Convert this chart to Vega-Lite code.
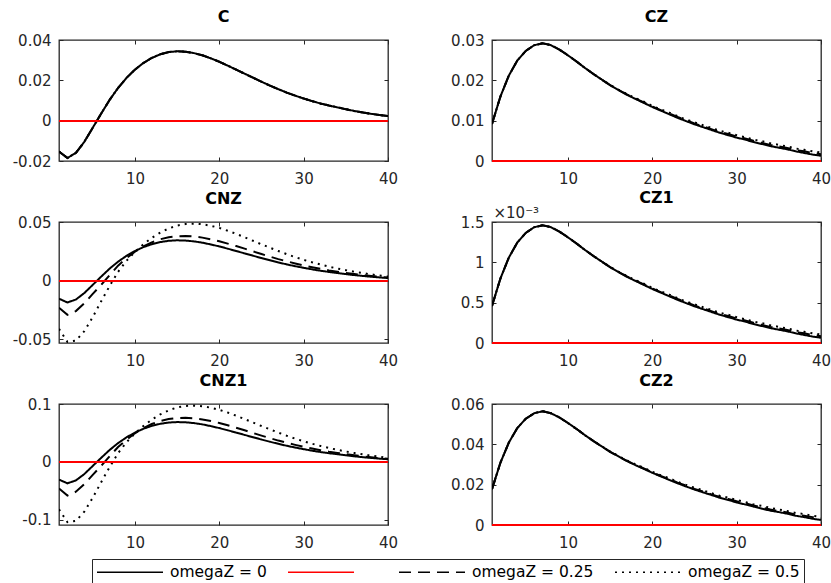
{
"$schema": "https://vega.github.io/schema/vega-lite/v6.json",
"background": "white",
"padding": {"left": 11, "top": 8, "right": 0, "bottom": 0},
"bounds": "flush",
"columns": 2,
"spacing": {"row": 61, "column": 104},
"datasets": {"irf": [
{"p":"C","t":1,"a":-0.0153,"b":-0.0153,"c":-0.0153},{"p":"C","t":2,"a":-0.0185,"b":-0.0185,"c":-0.0185},{"p":"C","t":3,"a":-0.016,"b":-0.016,"c":-0.016},{"p":"C","t":4,"a":-0.0105,"b":-0.0105,"c":-0.0105},{"p":"C","t":5,"a":-0.0035,"b":-0.0035,"c":-0.0035},{"p":"C","t":6,"a":0.0035,"b":0.0035,"c":0.0035},{"p":"C","t":7,"a":0.0103,"b":0.0103,"c":0.0103},{"p":"C","t":8,"a":0.0162,"b":0.0162,"c":0.0162},{"p":"C","t":9,"a":0.0212,"b":0.0212,"c":0.0212},{"p":"C","t":10,"a":0.0253,"b":0.0253,"c":0.0253},
{"p":"C","t":11,"a":0.0286,"b":0.0286,"c":0.0286},{"p":"C","t":12,"a":0.0311,"b":0.0311,"c":0.0311},{"p":"C","t":13,"a":0.0329,"b":0.0329,"c":0.0329},{"p":"C","t":14,"a":0.034,"b":0.034,"c":0.034},{"p":"C","t":15,"a":0.0344,"b":0.0344,"c":0.0344},{"p":"C","t":16,"a":0.0342,"b":0.0342,"c":0.0342},{"p":"C","t":17,"a":0.0335,"b":0.0335,"c":0.0335},{"p":"C","t":18,"a":0.0324,"b":0.0324,"c":0.0324},{"p":"C","t":19,"a":0.0309,"b":0.0309,"c":0.0309},{"p":"C","t":20,"a":0.0292,"b":0.0292,"c":0.0292},
{"p":"C","t":21,"a":0.0273,"b":0.0273,"c":0.0273},{"p":"C","t":22,"a":0.0253,"b":0.0253,"c":0.0253},{"p":"C","t":23,"a":0.0233,"b":0.0233,"c":0.0233},{"p":"C","t":24,"a":0.0213,"b":0.0213,"c":0.0213},{"p":"C","t":25,"a":0.0193,"b":0.0193,"c":0.0193},{"p":"C","t":26,"a":0.0174,"b":0.0174,"c":0.0174},{"p":"C","t":27,"a":0.0156,"b":0.0156,"c":0.0156},{"p":"C","t":28,"a":0.0139,"b":0.0139,"c":0.0139},{"p":"C","t":29,"a":0.0124,"b":0.0124,"c":0.0124},{"p":"C","t":30,"a":0.011,"b":0.011,"c":0.011},
{"p":"C","t":31,"a":0.0097,"b":0.0097,"c":0.0097},{"p":"C","t":32,"a":0.0085,"b":0.0085,"c":0.0085},{"p":"C","t":33,"a":0.0075,"b":0.0075,"c":0.0075},{"p":"C","t":34,"a":0.0066,"b":0.0066,"c":0.0066},{"p":"C","t":35,"a":0.0057,"b":0.0057,"c":0.0057},{"p":"C","t":36,"a":0.0048,"b":0.0048,"c":0.0048},{"p":"C","t":37,"a":0.0041,"b":0.0041,"c":0.0041},{"p":"C","t":38,"a":0.0034,"b":0.0034,"c":0.0034},{"p":"C","t":39,"a":0.0028,"b":0.0028,"c":0.0028},{"p":"C","t":40,"a":0.0023,"b":0.0023,"c":0.0023},
{"p":"CNZ","t":1,"a":-0.0153,"b":-0.023,"c":-0.041},{"p":"CNZ","t":2,"a":-0.0185,"b":-0.029,"c":-0.052},{"p":"CNZ","t":3,"a":-0.016,"b":-0.0258,"c":-0.051},{"p":"CNZ","t":4,"a":-0.0105,"b":-0.0192,"c":-0.043},{"p":"CNZ","t":5,"a":-0.0035,"b":-0.0112,"c":-0.031},{"p":"CNZ","t":6,"a":0.0035,"b":-0.0035,"c":-0.0175},{"p":"CNZ","t":7,"a":0.0103,"b":0.0048,"c":-0.0045},{"p":"CNZ","t":8,"a":0.0162,"b":0.0128,"c":0.0075},{"p":"CNZ","t":9,"a":0.0212,"b":0.0192,"c":0.017},{"p":"CNZ","t":10,"a":0.0253,"b":0.0247,"c":0.0245},
{"p":"CNZ","t":11,"a":0.0286,"b":0.0292,"c":0.031},{"p":"CNZ","t":12,"a":0.0311,"b":0.0327,"c":0.0365},{"p":"CNZ","t":13,"a":0.0329,"b":0.0353,"c":0.041},{"p":"CNZ","t":14,"a":0.034,"b":0.037,"c":0.0445},{"p":"CNZ","t":15,"a":0.0344,"b":0.0379,"c":0.047},{"p":"CNZ","t":16,"a":0.0342,"b":0.0381,"c":0.0483},{"p":"CNZ","t":17,"a":0.0335,"b":0.0377,"c":0.0486},{"p":"CNZ","t":18,"a":0.0324,"b":0.0367,"c":0.0481},{"p":"CNZ","t":19,"a":0.0309,"b":0.0353,"c":0.0468},{"p":"CNZ","t":20,"a":0.0292,"b":0.0336,"c":0.045},
{"p":"CNZ","t":21,"a":0.0273,"b":0.0316,"c":0.0426},{"p":"CNZ","t":22,"a":0.0253,"b":0.0295,"c":0.0399},{"p":"CNZ","t":23,"a":0.0233,"b":0.0273,"c":0.037},{"p":"CNZ","t":24,"a":0.0213,"b":0.025,"c":0.034},{"p":"CNZ","t":25,"a":0.0193,"b":0.0227,"c":0.031},{"p":"CNZ","t":26,"a":0.0174,"b":0.0205,"c":0.0281},{"p":"CNZ","t":27,"a":0.0156,"b":0.0184,"c":0.0253},{"p":"CNZ","t":28,"a":0.0139,"b":0.0165,"c":0.0226},{"p":"CNZ","t":29,"a":0.0124,"b":0.0147,"c":0.0201},{"p":"CNZ","t":30,"a":0.011,"b":0.013,"c":0.0178},
{"p":"CNZ","t":31,"a":0.0097,"b":0.0115,"c":0.0157},{"p":"CNZ","t":32,"a":0.0085,"b":0.0101,"c":0.0138},{"p":"CNZ","t":33,"a":0.0075,"b":0.0088,"c":0.012},{"p":"CNZ","t":34,"a":0.0066,"b":0.0077,"c":0.0104},{"p":"CNZ","t":35,"a":0.0057,"b":0.0067,"c":0.009},{"p":"CNZ","t":36,"a":0.0048,"b":0.0057,"c":0.0077},{"p":"CNZ","t":37,"a":0.0041,"b":0.0048,"c":0.0065},{"p":"CNZ","t":38,"a":0.0034,"b":0.004,"c":0.0054},{"p":"CNZ","t":39,"a":0.0028,"b":0.0033,"c":0.0044},{"p":"CNZ","t":40,"a":0.0023,"b":0.0027,"c":0.0035},
{"p":"CNZ1","t":1,"a":-0.0306,"b":-0.046,"c":-0.082},{"p":"CNZ1","t":2,"a":-0.037,"b":-0.058,"c":-0.104},{"p":"CNZ1","t":3,"a":-0.032,"b":-0.0516,"c":-0.102},{"p":"CNZ1","t":4,"a":-0.021,"b":-0.0384,"c":-0.086},{"p":"CNZ1","t":5,"a":-0.007,"b":-0.0224,"c":-0.062},{"p":"CNZ1","t":6,"a":0.007,"b":-0.007,"c":-0.035},{"p":"CNZ1","t":7,"a":0.0206,"b":0.0096,"c":-0.009},{"p":"CNZ1","t":8,"a":0.0324,"b":0.0256,"c":0.015},{"p":"CNZ1","t":9,"a":0.0424,"b":0.0384,"c":0.034},{"p":"CNZ1","t":10,"a":0.0506,"b":0.0494,"c":0.049},
{"p":"CNZ1","t":11,"a":0.0572,"b":0.0584,"c":0.062},{"p":"CNZ1","t":12,"a":0.0622,"b":0.0654,"c":0.073},{"p":"CNZ1","t":13,"a":0.0658,"b":0.0706,"c":0.082},{"p":"CNZ1","t":14,"a":0.068,"b":0.074,"c":0.089},{"p":"CNZ1","t":15,"a":0.0688,"b":0.0758,"c":0.094},{"p":"CNZ1","t":16,"a":0.0684,"b":0.0762,"c":0.0966},{"p":"CNZ1","t":17,"a":0.067,"b":0.0754,"c":0.0972},{"p":"CNZ1","t":18,"a":0.0648,"b":0.0734,"c":0.0962},{"p":"CNZ1","t":19,"a":0.0618,"b":0.0706,"c":0.0936},{"p":"CNZ1","t":20,"a":0.0584,"b":0.0672,"c":0.09},
{"p":"CNZ1","t":21,"a":0.0546,"b":0.0632,"c":0.0852},{"p":"CNZ1","t":22,"a":0.0506,"b":0.059,"c":0.0798},{"p":"CNZ1","t":23,"a":0.0466,"b":0.0546,"c":0.074},{"p":"CNZ1","t":24,"a":0.0426,"b":0.05,"c":0.068},{"p":"CNZ1","t":25,"a":0.0386,"b":0.0454,"c":0.062},{"p":"CNZ1","t":26,"a":0.0348,"b":0.041,"c":0.0562},{"p":"CNZ1","t":27,"a":0.0312,"b":0.0368,"c":0.0506},{"p":"CNZ1","t":28,"a":0.0278,"b":0.033,"c":0.0452},{"p":"CNZ1","t":29,"a":0.0248,"b":0.0294,"c":0.0402},{"p":"CNZ1","t":30,"a":0.022,"b":0.026,"c":0.0356},
{"p":"CNZ1","t":31,"a":0.0194,"b":0.023,"c":0.0314},{"p":"CNZ1","t":32,"a":0.017,"b":0.0202,"c":0.0276},{"p":"CNZ1","t":33,"a":0.015,"b":0.0176,"c":0.024},{"p":"CNZ1","t":34,"a":0.0132,"b":0.0154,"c":0.0208},{"p":"CNZ1","t":35,"a":0.0114,"b":0.0134,"c":0.018},{"p":"CNZ1","t":36,"a":0.0096,"b":0.0114,"c":0.0154},{"p":"CNZ1","t":37,"a":0.0082,"b":0.0096,"c":0.013},{"p":"CNZ1","t":38,"a":0.0068,"b":0.008,"c":0.0108},{"p":"CNZ1","t":39,"a":0.0056,"b":0.0066,"c":0.0088},{"p":"CNZ1","t":40,"a":0.0046,"b":0.0054,"c":0.007},
{"p":"CZ","t":1,"a":0.0092,"b":0.0092,"c":0.0092},{"p":"CZ","t":2,"a":0.016,"b":0.016,"c":0.016},{"p":"CZ","t":3,"a":0.0212,"b":0.0212,"c":0.0212},{"p":"CZ","t":4,"a":0.0249,"b":0.0249,"c":0.0249},{"p":"CZ","t":5,"a":0.0273,"b":0.0273,"c":0.0273},{"p":"CZ","t":6,"a":0.0287,"b":0.0287,"c":0.0287},{"p":"CZ","t":7,"a":0.0292,"b":0.0292,"c":0.0292},{"p":"CZ","t":8,"a":0.0287,"b":0.0287,"c":0.0287},{"p":"CZ","t":9,"a":0.0276,"b":0.0276,"c":0.0276},{"p":"CZ","t":10,"a":0.0262,"b":0.0262,"c":0.0262},
{"p":"CZ","t":11,"a":0.0247,"b":0.0247,"c":0.0247},{"p":"CZ","t":12,"a":0.0231,"b":0.0231,"c":0.0231},{"p":"CZ","t":13,"a":0.0216,"b":0.0216,"c":0.0216},{"p":"CZ","t":14,"a":0.0202,"b":0.0202,"c":0.0202},{"p":"CZ","t":15,"a":0.0188,"b":0.0188,"c":0.0189},{"p":"CZ","t":16,"a":0.0176,"b":0.0176,"c":0.0177},{"p":"CZ","t":17,"a":0.0164,"b":0.0165,"c":0.0166},{"p":"CZ","t":18,"a":0.0154,"b":0.0155,"c":0.0156},{"p":"CZ","t":19,"a":0.0144,"b":0.0145,"c":0.0147},{"p":"CZ","t":20,"a":0.0134,"b":0.0135,"c":0.0137},
{"p":"CZ","t":21,"a":0.0125,"b":0.0126,"c":0.0128},{"p":"CZ","t":22,"a":0.0116,"b":0.0118,"c":0.012},{"p":"CZ","t":23,"a":0.0107,"b":0.0109,"c":0.0111},{"p":"CZ","t":24,"a":0.0099,"b":0.0101,"c":0.0103},{"p":"CZ","t":25,"a":0.0091,"b":0.0093,"c":0.0096},{"p":"CZ","t":26,"a":0.0084,"b":0.0086,"c":0.0089},{"p":"CZ","t":27,"a":0.0077,"b":0.0079,"c":0.0082},{"p":"CZ","t":28,"a":0.007,"b":0.0072,"c":0.0075},{"p":"CZ","t":29,"a":0.0064,"b":0.0067,"c":0.007},{"p":"CZ","t":30,"a":0.0058,"b":0.0061,"c":0.0064},
{"p":"CZ","t":31,"a":0.0053,"b":0.0056,"c":0.0059},{"p":"CZ","t":32,"a":0.0047,"b":0.005,"c":0.0053},{"p":"CZ","t":33,"a":0.0042,"b":0.0045,"c":0.0049},{"p":"CZ","t":34,"a":0.0037,"b":0.004,"c":0.0044},{"p":"CZ","t":35,"a":0.0033,"b":0.0036,"c":0.004},{"p":"CZ","t":36,"a":0.0029,"b":0.0032,"c":0.0036},{"p":"CZ","t":37,"a":0.0024,"b":0.0027,"c":0.0031},{"p":"CZ","t":38,"a":0.002,"b":0.0024,"c":0.0028},{"p":"CZ","t":39,"a":0.0016,"b":0.002,"c":0.0024},{"p":"CZ","t":40,"a":0.0013,"b":0.0017,"c":0.0021},
{"p":"CZ1","t":1,"a":0.00046,"b":0.00046,"c":0.00046},{"p":"CZ1","t":2,"a":0.0008,"b":0.0008,"c":0.0008},{"p":"CZ1","t":3,"a":0.00106,"b":0.00106,"c":0.00106},{"p":"CZ1","t":4,"a":0.001245,"b":0.001245,"c":0.001245},{"p":"CZ1","t":5,"a":0.001365,"b":0.001365,"c":0.001365},{"p":"CZ1","t":6,"a":0.001435,"b":0.001435,"c":0.001435},{"p":"CZ1","t":7,"a":0.00146,"b":0.00146,"c":0.00146},{"p":"CZ1","t":8,"a":0.001435,"b":0.001435,"c":0.001435},{"p":"CZ1","t":9,"a":0.00138,"b":0.00138,"c":0.00138},{"p":"CZ1","t":10,"a":0.00131,"b":0.00131,"c":0.00131},
{"p":"CZ1","t":11,"a":0.001235,"b":0.001235,"c":0.001235},{"p":"CZ1","t":12,"a":0.001155,"b":0.001155,"c":0.001155},{"p":"CZ1","t":13,"a":0.00108,"b":0.00108,"c":0.00108},{"p":"CZ1","t":14,"a":0.00101,"b":0.00101,"c":0.00101},{"p":"CZ1","t":15,"a":0.00094,"b":0.00094,"c":0.000945},{"p":"CZ1","t":16,"a":0.00088,"b":0.00088,"c":0.000885},{"p":"CZ1","t":17,"a":0.00082,"b":0.000825,"c":0.00083},{"p":"CZ1","t":18,"a":0.00077,"b":0.000775,"c":0.00078},{"p":"CZ1","t":19,"a":0.00072,"b":0.000725,"c":0.000735},{"p":"CZ1","t":20,"a":0.00067,"b":0.000675,"c":0.000685},
{"p":"CZ1","t":21,"a":0.000625,"b":0.00063,"c":0.00064},{"p":"CZ1","t":22,"a":0.00058,"b":0.00059,"c":0.0006},{"p":"CZ1","t":23,"a":0.000535,"b":0.000545,"c":0.000555},{"p":"CZ1","t":24,"a":0.000495,"b":0.000505,"c":0.000515},{"p":"CZ1","t":25,"a":0.000455,"b":0.000465,"c":0.00048},{"p":"CZ1","t":26,"a":0.00042,"b":0.00043,"c":0.000445},{"p":"CZ1","t":27,"a":0.000385,"b":0.000395,"c":0.00041},{"p":"CZ1","t":28,"a":0.00035,"b":0.00036,"c":0.000375},{"p":"CZ1","t":29,"a":0.00032,"b":0.000335,"c":0.00035},{"p":"CZ1","t":30,"a":0.00029,"b":0.000305,"c":0.00032},
{"p":"CZ1","t":31,"a":0.000265,"b":0.00028,"c":0.000295},{"p":"CZ1","t":32,"a":0.000235,"b":0.00025,"c":0.000265},{"p":"CZ1","t":33,"a":0.00021,"b":0.000225,"c":0.000245},{"p":"CZ1","t":34,"a":0.000185,"b":0.0002,"c":0.00022},{"p":"CZ1","t":35,"a":0.000165,"b":0.00018,"c":0.0002},{"p":"CZ1","t":36,"a":0.000145,"b":0.00016,"c":0.00018},{"p":"CZ1","t":37,"a":0.00012,"b":0.000135,"c":0.000155},{"p":"CZ1","t":38,"a":0.0001,"b":0.00012,"c":0.00014},{"p":"CZ1","t":39,"a":0.00008,"b":0.0001,"c":0.00012},{"p":"CZ1","t":40,"a":0.000065,"b":0.000085,"c":0.000105},
{"p":"CZ2","t":1,"a":0.0178,"b":0.0178,"c":0.0178},{"p":"CZ2","t":2,"a":0.0309,"b":0.0309,"c":0.0309},{"p":"CZ2","t":3,"a":0.0409,"b":0.0409,"c":0.0409},{"p":"CZ2","t":4,"a":0.0481,"b":0.0481,"c":0.0481},{"p":"CZ2","t":5,"a":0.0527,"b":0.0527,"c":0.0527},{"p":"CZ2","t":6,"a":0.0554,"b":0.0554,"c":0.0554},{"p":"CZ2","t":7,"a":0.0564,"b":0.0564,"c":0.0564},{"p":"CZ2","t":8,"a":0.0554,"b":0.0554,"c":0.0554},{"p":"CZ2","t":9,"a":0.0533,"b":0.0533,"c":0.0533},{"p":"CZ2","t":10,"a":0.0506,"b":0.0506,"c":0.0506},
{"p":"CZ2","t":11,"a":0.0477,"b":0.0477,"c":0.0477},{"p":"CZ2","t":12,"a":0.0446,"b":0.0446,"c":0.0446},{"p":"CZ2","t":13,"a":0.0417,"b":0.0417,"c":0.0417},{"p":"CZ2","t":14,"a":0.039,"b":0.039,"c":0.039},{"p":"CZ2","t":15,"a":0.0363,"b":0.0363,"c":0.0365},{"p":"CZ2","t":16,"a":0.034,"b":0.034,"c":0.0342},{"p":"CZ2","t":17,"a":0.0317,"b":0.0318,"c":0.032},{"p":"CZ2","t":18,"a":0.0297,"b":0.0299,"c":0.0301},{"p":"CZ2","t":19,"a":0.0278,"b":0.028,"c":0.0284},{"p":"CZ2","t":20,"a":0.0259,"b":0.0261,"c":0.0264},
{"p":"CZ2","t":21,"a":0.0241,"b":0.0243,"c":0.0247},{"p":"CZ2","t":22,"a":0.0224,"b":0.0228,"c":0.0232},{"p":"CZ2","t":23,"a":0.0207,"b":0.021,"c":0.0214},{"p":"CZ2","t":24,"a":0.0191,"b":0.0195,"c":0.0199},{"p":"CZ2","t":25,"a":0.0176,"b":0.0179,"c":0.0185},{"p":"CZ2","t":26,"a":0.0162,"b":0.0166,"c":0.0172},{"p":"CZ2","t":27,"a":0.0149,"b":0.0152,"c":0.0158},{"p":"CZ2","t":28,"a":0.0135,"b":0.0139,"c":0.0145},{"p":"CZ2","t":29,"a":0.0124,"b":0.0129,"c":0.0135},{"p":"CZ2","t":30,"a":0.0112,"b":0.0118,"c":0.0124},
{"p":"CZ2","t":31,"a":0.0102,"b":0.0108,"c":0.0114},{"p":"CZ2","t":32,"a":0.0091,"b":0.0097,"c":0.0102},{"p":"CZ2","t":33,"a":0.0081,"b":0.0087,"c":0.0095},{"p":"CZ2","t":34,"a":0.0071,"b":0.0077,"c":0.0085},{"p":"CZ2","t":35,"a":0.0064,"b":0.0069,"c":0.0077},{"p":"CZ2","t":36,"a":0.0056,"b":0.0062,"c":0.0069},{"p":"CZ2","t":37,"a":0.0046,"b":0.0052,"c":0.006},{"p":"CZ2","t":38,"a":0.0039,"b":0.0046,"c":0.0054},{"p":"CZ2","t":39,"a":0.0031,"b":0.0039,"c":0.0046},{"p":"CZ2","t":40,"a":0.0025,"b":0.0033,"c":0.0041}
]},
"data": {"name": "irf"},
"transform": [{"fold": ["a", "b", "c"], "as": ["s", "v"]}],
"concat": [
{"title": "C", "width": 329, "height": 121, "transform": [{"filter": "datum.p == 'C'"}],
 "resolve": {"axis": {"x": "independent", "y": "independent"}},
 "layer": [
  {"mark": {"type": "line", "strokeWidth": 2, "clip": true},
   "encoding": {
    "x": {"field": "t", "type": "quantitative", "scale": {"domain": [1, 40], "nice": false, "zero": false}, "axis": {"values": [10, 20, 30, 40], "title": null}},
    "y": {"field": "v", "type": "quantitative", "scale": {"domain": [-0.02, 0.04], "nice": false, "zero": false}, "axis": {"values": [-0.02, 0, 0.02, 0.04], "title": null, "labelExpr": "'' + datum.value"}},
    "color": {"field": "s", "type": "nominal", "scale": {"domain": ["a", "z", "b", "c"], "range": ["#000000", "#ff0000", "#000000", "#000000"]}, "legend": {"orient": "none", "legendX": 33, "legendY": 519, "direction": "horizontal", "columns": 4, "title": null, "labelExpr": "datum.label == 'a' ? 'omegaZ = 0' : datum.label == 'b' ? 'omegaZ = 0.25' : datum.label == 'c' ? 'omegaZ = 0.5' : '---'", "encode": {"labels": {"update": {"opacity": {"signal": "datum.value === 'z' ? 0 : 1"}}}}}},
    "strokeDash": {"field": "s", "type": "nominal", "scale": {"domain": ["a", "z", "b", "c"], "range": [[1, 0], [1, 0], [12, 7], [2, 5]]}, "legend": {"orient": "none", "legendX": 33, "legendY": 519, "direction": "horizontal", "columns": 4, "title": null, "labelExpr": "datum.label == 'a' ? 'omegaZ = 0' : datum.label == 'b' ? 'omegaZ = 0.25' : datum.label == 'c' ? 'omegaZ = 0.5' : '---'", "encode": {"labels": {"update": {"opacity": {"signal": "datum.value === 'z' ? 0 : 1"}}}}}}
   }},
  {"mark": {"type": "rule", "color": "#ff0000", "strokeWidth": 1}, "encoding": {"y": {"datum": 0, "type": "quantitative", "scale": {"domain": [-0.02, 0.04], "nice": false, "zero": false}, "axis": null}}},
  {"mark": {"type": "point", "opacity": 0}, "encoding": {
    "x": {"field": "t", "type": "quantitative", "scale": {"domain": [1, 40], "nice": false, "zero": false}, "axis": {"orient": "top", "values": [10, 20, 30, 40], "labels": false, "title": null}},
    "y": {"field": "v", "type": "quantitative", "scale": {"domain": [-0.02, 0.04], "nice": false, "zero": false}, "axis": {"orient": "right", "values": [-0.02, 0, 0.02, 0.04], "labels": false, "title": null}}}}
 ]},
{"title": "CZ", "width": 329, "height": 121, "transform": [{"filter": "datum.p == 'CZ'"}],
 "resolve": {"axis": {"x": "independent", "y": "independent"}},
 "layer": [
  {"mark": {"type": "line", "strokeWidth": 2, "clip": true},
   "encoding": {
    "x": {"field": "t", "type": "quantitative", "scale": {"domain": [1, 40], "nice": false, "zero": false}, "axis": {"values": [10, 20, 30, 40], "title": null}},
    "y": {"field": "v", "type": "quantitative", "scale": {"domain": [0, 0.03], "nice": false, "zero": false}, "axis": {"values": [0, 0.01, 0.02, 0.03], "title": null, "labelExpr": "'' + datum.value"}},
    "color": {"field": "s", "type": "nominal", "scale": {"domain": ["a", "z", "b", "c"], "range": ["#000000", "#ff0000", "#000000", "#000000"]}, "legend": {"orient": "none", "legendX": 33, "legendY": 519, "direction": "horizontal", "columns": 4, "title": null, "labelExpr": "datum.label == 'a' ? 'omegaZ = 0' : datum.label == 'b' ? 'omegaZ = 0.25' : datum.label == 'c' ? 'omegaZ = 0.5' : '---'", "encode": {"labels": {"update": {"opacity": {"signal": "datum.value === 'z' ? 0 : 1"}}}}}},
    "strokeDash": {"field": "s", "type": "nominal", "scale": {"domain": ["a", "z", "b", "c"], "range": [[1, 0], [1, 0], [12, 7], [2, 5]]}, "legend": {"orient": "none", "legendX": 33, "legendY": 519, "direction": "horizontal", "columns": 4, "title": null, "labelExpr": "datum.label == 'a' ? 'omegaZ = 0' : datum.label == 'b' ? 'omegaZ = 0.25' : datum.label == 'c' ? 'omegaZ = 0.5' : '---'", "encode": {"labels": {"update": {"opacity": {"signal": "datum.value === 'z' ? 0 : 1"}}}}}}
   }},
  {"mark": {"type": "rule", "color": "#ff0000", "strokeWidth": 1.5}, "encoding": {"y": {"datum": 0, "type": "quantitative", "scale": {"domain": [0, 0.03], "nice": false, "zero": false}, "axis": null}}},
  {"mark": {"type": "point", "opacity": 0}, "encoding": {
    "x": {"field": "t", "type": "quantitative", "scale": {"domain": [1, 40], "nice": false, "zero": false}, "axis": {"orient": "top", "values": [10, 20, 30, 40], "labels": false, "title": null}},
    "y": {"field": "v", "type": "quantitative", "scale": {"domain": [0, 0.03], "nice": false, "zero": false}, "axis": {"orient": "right", "values": [0, 0.01, 0.02, 0.03], "labels": false, "title": null}}}}
 ]},
{"title": "CNZ", "width": 329, "height": 121, "transform": [{"filter": "datum.p == 'CNZ'"}],
 "resolve": {"axis": {"x": "independent", "y": "independent"}},
 "layer": [
  {"mark": {"type": "line", "strokeWidth": 2, "clip": true},
   "encoding": {
    "x": {"field": "t", "type": "quantitative", "scale": {"domain": [1, 40], "nice": false, "zero": false}, "axis": {"values": [10, 20, 30, 40], "title": null}},
    "y": {"field": "v", "type": "quantitative", "scale": {"domain": [-0.053, 0.05], "nice": false, "zero": false}, "axis": {"values": [-0.05, 0, 0.05], "title": null, "labelExpr": "'' + datum.value"}},
    "color": {"field": "s", "type": "nominal", "scale": {"domain": ["a", "z", "b", "c"], "range": ["#000000", "#ff0000", "#000000", "#000000"]}, "legend": {"orient": "none", "legendX": 33, "legendY": 519, "direction": "horizontal", "columns": 4, "title": null, "labelExpr": "datum.label == 'a' ? 'omegaZ = 0' : datum.label == 'b' ? 'omegaZ = 0.25' : datum.label == 'c' ? 'omegaZ = 0.5' : '---'", "encode": {"labels": {"update": {"opacity": {"signal": "datum.value === 'z' ? 0 : 1"}}}}}},
    "strokeDash": {"field": "s", "type": "nominal", "scale": {"domain": ["a", "z", "b", "c"], "range": [[1, 0], [1, 0], [12, 7], [2, 5]]}, "legend": {"orient": "none", "legendX": 33, "legendY": 519, "direction": "horizontal", "columns": 4, "title": null, "labelExpr": "datum.label == 'a' ? 'omegaZ = 0' : datum.label == 'b' ? 'omegaZ = 0.25' : datum.label == 'c' ? 'omegaZ = 0.5' : '---'", "encode": {"labels": {"update": {"opacity": {"signal": "datum.value === 'z' ? 0 : 1"}}}}}}
   }},
  {"mark": {"type": "rule", "color": "#ff0000", "strokeWidth": 1}, "encoding": {"y": {"datum": 0, "type": "quantitative", "scale": {"domain": [-0.053, 0.05], "nice": false, "zero": false}, "axis": null}}},
  {"mark": {"type": "point", "opacity": 0}, "encoding": {
    "x": {"field": "t", "type": "quantitative", "scale": {"domain": [1, 40], "nice": false, "zero": false}, "axis": {"orient": "top", "values": [10, 20, 30, 40], "labels": false, "title": null}},
    "y": {"field": "v", "type": "quantitative", "scale": {"domain": [-0.053, 0.05], "nice": false, "zero": false}, "axis": {"orient": "right", "values": [-0.05, 0, 0.05], "labels": false, "title": null}}}}
 ]},
{"title": {"text": "CZ1", "offset": -1}, "width": 329, "height": 121, "transform": [{"filter": "datum.p == 'CZ1'"}],
 "resolve": {"axis": {"x": "independent", "y": "independent"}},
 "layer": [
  {"mark": {"type": "line", "strokeWidth": 2, "clip": true},
   "encoding": {
    "x": {"field": "t", "type": "quantitative", "scale": {"domain": [1, 40], "nice": false, "zero": false}, "axis": {"values": [10, 20, 30, 40], "title": null}},
    "y": {"field": "v", "type": "quantitative", "scale": {"domain": [0, 0.0015], "nice": false, "zero": false}, "axis": {"values": [0, 0.0005, 0.001, 0.0015], "title": "×10⁻³", "titleAngle": 0, "titleAlign": "left", "titleBaseline": "alphabetic", "titleX": 1, "titleY": -5, "titleFont": "DejaVu Sans", "titleFontSize": 15, "titleFontWeight": "normal", "titleColor": "#262626", "labelExpr": "'' + round(datum.value * 10000) / 10"}},
    "color": {"field": "s", "type": "nominal", "scale": {"domain": ["a", "z", "b", "c"], "range": ["#000000", "#ff0000", "#000000", "#000000"]}, "legend": {"orient": "none", "legendX": 33, "legendY": 519, "direction": "horizontal", "columns": 4, "title": null, "labelExpr": "datum.label == 'a' ? 'omegaZ = 0' : datum.label == 'b' ? 'omegaZ = 0.25' : datum.label == 'c' ? 'omegaZ = 0.5' : '---'", "encode": {"labels": {"update": {"opacity": {"signal": "datum.value === 'z' ? 0 : 1"}}}}}},
    "strokeDash": {"field": "s", "type": "nominal", "scale": {"domain": ["a", "z", "b", "c"], "range": [[1, 0], [1, 0], [12, 7], [2, 5]]}, "legend": {"orient": "none", "legendX": 33, "legendY": 519, "direction": "horizontal", "columns": 4, "title": null, "labelExpr": "datum.label == 'a' ? 'omegaZ = 0' : datum.label == 'b' ? 'omegaZ = 0.25' : datum.label == 'c' ? 'omegaZ = 0.5' : '---'", "encode": {"labels": {"update": {"opacity": {"signal": "datum.value === 'z' ? 0 : 1"}}}}}}
   }},
  {"mark": {"type": "rule", "color": "#ff0000", "strokeWidth": 1.5}, "encoding": {"y": {"datum": 0, "type": "quantitative", "scale": {"domain": [0, 0.0015], "nice": false, "zero": false}, "axis": null}}},
  {"mark": {"type": "point", "opacity": 0}, "encoding": {
    "x": {"field": "t", "type": "quantitative", "scale": {"domain": [1, 40], "nice": false, "zero": false}, "axis": {"orient": "top", "values": [10, 20, 30, 40], "labels": false, "title": null}},
    "y": {"field": "v", "type": "quantitative", "scale": {"domain": [0, 0.0015], "nice": false, "zero": false}, "axis": {"orient": "right", "values": [0, 0.0005, 0.001, 0.0015], "labels": false, "title": null}}}}
 ]},
{"title": "CNZ1", "width": 329, "height": 121, "transform": [{"filter": "datum.p == 'CNZ1'"}],
 "resolve": {"axis": {"x": "independent", "y": "independent"}},
 "layer": [
  {"mark": {"type": "line", "strokeWidth": 2, "clip": true},
   "encoding": {
    "x": {"field": "t", "type": "quantitative", "scale": {"domain": [1, 40], "nice": false, "zero": false}, "axis": {"values": [10, 20, 30, 40], "title": null}},
    "y": {"field": "v", "type": "quantitative", "scale": {"domain": [-0.109, 0.1], "nice": false, "zero": false}, "axis": {"values": [-0.1, 0, 0.1], "title": null, "labelExpr": "'' + datum.value"}},
    "color": {"field": "s", "type": "nominal", "scale": {"domain": ["a", "z", "b", "c"], "range": ["#000000", "#ff0000", "#000000", "#000000"]}, "legend": {"orient": "none", "legendX": 33, "legendY": 519, "direction": "horizontal", "columns": 4, "title": null, "labelExpr": "datum.label == 'a' ? 'omegaZ = 0' : datum.label == 'b' ? 'omegaZ = 0.25' : datum.label == 'c' ? 'omegaZ = 0.5' : '---'", "encode": {"labels": {"update": {"opacity": {"signal": "datum.value === 'z' ? 0 : 1"}}}}}},
    "strokeDash": {"field": "s", "type": "nominal", "scale": {"domain": ["a", "z", "b", "c"], "range": [[1, 0], [1, 0], [12, 7], [2, 5]]}, "legend": {"orient": "none", "legendX": 33, "legendY": 519, "direction": "horizontal", "columns": 4, "title": null, "labelExpr": "datum.label == 'a' ? 'omegaZ = 0' : datum.label == 'b' ? 'omegaZ = 0.25' : datum.label == 'c' ? 'omegaZ = 0.5' : '---'", "encode": {"labels": {"update": {"opacity": {"signal": "datum.value === 'z' ? 0 : 1"}}}}}}
   }},
  {"mark": {"type": "rule", "color": "#ff0000", "strokeWidth": 1}, "encoding": {"y": {"datum": 0, "type": "quantitative", "scale": {"domain": [-0.109, 0.1], "nice": false, "zero": false}, "axis": null}}},
  {"mark": {"type": "point", "opacity": 0}, "encoding": {
    "x": {"field": "t", "type": "quantitative", "scale": {"domain": [1, 40], "nice": false, "zero": false}, "axis": {"orient": "top", "values": [10, 20, 30, 40], "labels": false, "title": null}},
    "y": {"field": "v", "type": "quantitative", "scale": {"domain": [-0.109, 0.1], "nice": false, "zero": false}, "axis": {"orient": "right", "values": [-0.1, 0, 0.1], "labels": false, "title": null}}}}
 ]},
{"title": "CZ2", "width": 329, "height": 121, "transform": [{"filter": "datum.p == 'CZ2'"}],
 "resolve": {"axis": {"x": "independent", "y": "independent"}},
 "layer": [
  {"mark": {"type": "line", "strokeWidth": 2, "clip": true},
   "encoding": {
    "x": {"field": "t", "type": "quantitative", "scale": {"domain": [1, 40], "nice": false, "zero": false}, "axis": {"values": [10, 20, 30, 40], "title": null}},
    "y": {"field": "v", "type": "quantitative", "scale": {"domain": [0, 0.06], "nice": false, "zero": false}, "axis": {"values": [0, 0.02, 0.04, 0.06], "title": null, "labelExpr": "'' + datum.value"}},
    "color": {"field": "s", "type": "nominal", "scale": {"domain": ["a", "z", "b", "c"], "range": ["#000000", "#ff0000", "#000000", "#000000"]}, "legend": {"orient": "none", "legendX": 33, "legendY": 519, "direction": "horizontal", "columns": 4, "title": null, "labelExpr": "datum.label == 'a' ? 'omegaZ = 0' : datum.label == 'b' ? 'omegaZ = 0.25' : datum.label == 'c' ? 'omegaZ = 0.5' : '---'", "encode": {"labels": {"update": {"opacity": {"signal": "datum.value === 'z' ? 0 : 1"}}}}}},
    "strokeDash": {"field": "s", "type": "nominal", "scale": {"domain": ["a", "z", "b", "c"], "range": [[1, 0], [1, 0], [12, 7], [2, 5]]}, "legend": {"orient": "none", "legendX": 33, "legendY": 519, "direction": "horizontal", "columns": 4, "title": null, "labelExpr": "datum.label == 'a' ? 'omegaZ = 0' : datum.label == 'b' ? 'omegaZ = 0.25' : datum.label == 'c' ? 'omegaZ = 0.5' : '---'", "encode": {"labels": {"update": {"opacity": {"signal": "datum.value === 'z' ? 0 : 1"}}}}}}
   }},
  {"mark": {"type": "rule", "color": "#ff0000", "strokeWidth": 1.5}, "encoding": {"y": {"datum": 0, "type": "quantitative", "scale": {"domain": [0, 0.06], "nice": false, "zero": false}, "axis": null}}},
  {"mark": {"type": "point", "opacity": 0}, "encoding": {
    "x": {"field": "t", "type": "quantitative", "scale": {"domain": [1, 40], "nice": false, "zero": false}, "axis": {"orient": "top", "values": [10, 20, 30, 40], "labels": false, "title": null}},
    "y": {"field": "v", "type": "quantitative", "scale": {"domain": [0, 0.06], "nice": false, "zero": false}, "axis": {"orient": "right", "values": [0, 0.02, 0.04, 0.06], "labels": false, "title": null}}}}
 ]}
],
"config": {
 "view": {"stroke": "#262626", "strokeWidth": 1.3},
 "axis": {"domain": false, "grid": false, "tickSize": -4, "tickColor": "#262626", "tickWidth": 1, "labelColor": "#262626", "labelFont": "DejaVu Sans", "labelFontSize": 15, "labelPadding": 12, "labelFlush": false, "labelOverlap": false},
 "axisBottom": {"labelPadding": 14},
 "title": {"font": "DejaVu Sans", "fontSize": 16, "fontWeight": "bold", "color": "#000000", "offset": 8, "anchor": "middle", "frame": "group"},
 "legend": {"symbolType": "M-1,0L7.25,0", "symbolSize": 256, "symbolStrokeWidth": 1.5, "labelFont": "DejaVu Sans", "labelFontSize": 15.5, "labelColor": "#000000", "labelOffset": 56, "columnPadding": 18, "padding": 4, "strokeColor": "#262626", "fillColor": "#ffffff", "gridAlign": "each"}
}
}
